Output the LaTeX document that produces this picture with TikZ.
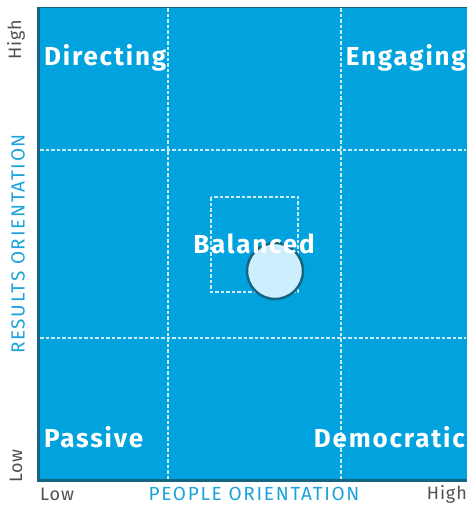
\documentclass[tikz,border=0pt]{standalone}
\usepackage{fontspec}
\setmainfont{Fira Sans}
\definecolor{gridblue}{RGB}{0,163,222}
\definecolor{edgeteal}{RGB}{20,100,130}
\definecolor{axisblue}{RGB}{27,163,219}
\definecolor{axisgray}{RGB}{80,80,80}
\definecolor{ballfill}{RGB}{205,238,252}
\begin{document}
\begin{tikzpicture}[x=1pt,y=-1pt,
  zone/.style={text=white,inner sep=0pt,font=\bfseries\fontsize{26}{28}\selectfont\addfontfeature{LetterSpace=7}},
  grid line/.style={draw=white!80!gridblue,dashed,dash pattern=on 3.5pt off 2pt,line width=1.3pt},
  axis end/.style={text=axisgray,inner sep=0pt,font=\fontsize{18}{20}\selectfont\addfontfeature{LetterSpace=5}},
  axis name/.style={text=axisblue,inner sep=0pt,font=\fontsize{19}{21}\selectfont\addfontfeature{LetterSpace=9}}]
\useasboundingbox (0,0) rectangle (470,506);
% quadrant field
\fill[gridblue] (37,7) rectangle (467,481);
\draw[edgeteal,line width=1pt] (37,7) -- (467,7);
\draw[edgeteal,line width=3pt] (38.5,7) -- (38.5,480.5) -- (467,480.5);
% dashed grid
\draw[grid line] (168,8) -- (168,479);
\draw[grid line] (341,8) -- (341,479);
\draw[grid line] (40,150) -- (466,150);
\draw[grid line] (40,338) -- (466,338);
\draw[grid line] (211,197) rectangle (298,292);
% marker
\node[circle,draw=edgeteal,line width=2.5pt,fill=ballfill,minimum size=56pt,inner sep=0pt] (ball) at (275,271) {};
% zone labels
\node[zone,anchor=west] (directing) at (44,58) {Directing};
\node[zone,anchor=east] (engaging) at (466,58) {Engaging};
\node[zone,anchor=west] (passive) at (44,437) {Passive};
\node[zone,anchor=east] (democratic) at (465,437) {Democratic};
\node[zone] (balanced) at (254,244) {Balanced};
% axes
\node[axis end,rotate=90] (yhigh) at (16,40) {High};
\node[axis end,rotate=90] (ylow) at (16,466) {Low};
\node[axis name,rotate=90] (yname) at (18,244) {RESULTS ORIENTATION};
\node[axis end,anchor=west] (xlow) at (40,494) {Low};
\node[axis end,anchor=east] (xhigh) at (467,494) {High};
\node[axis name] (xname) at (254,494) {PEOPLE ORIENTATION};
\end{tikzpicture}
\end{document}
